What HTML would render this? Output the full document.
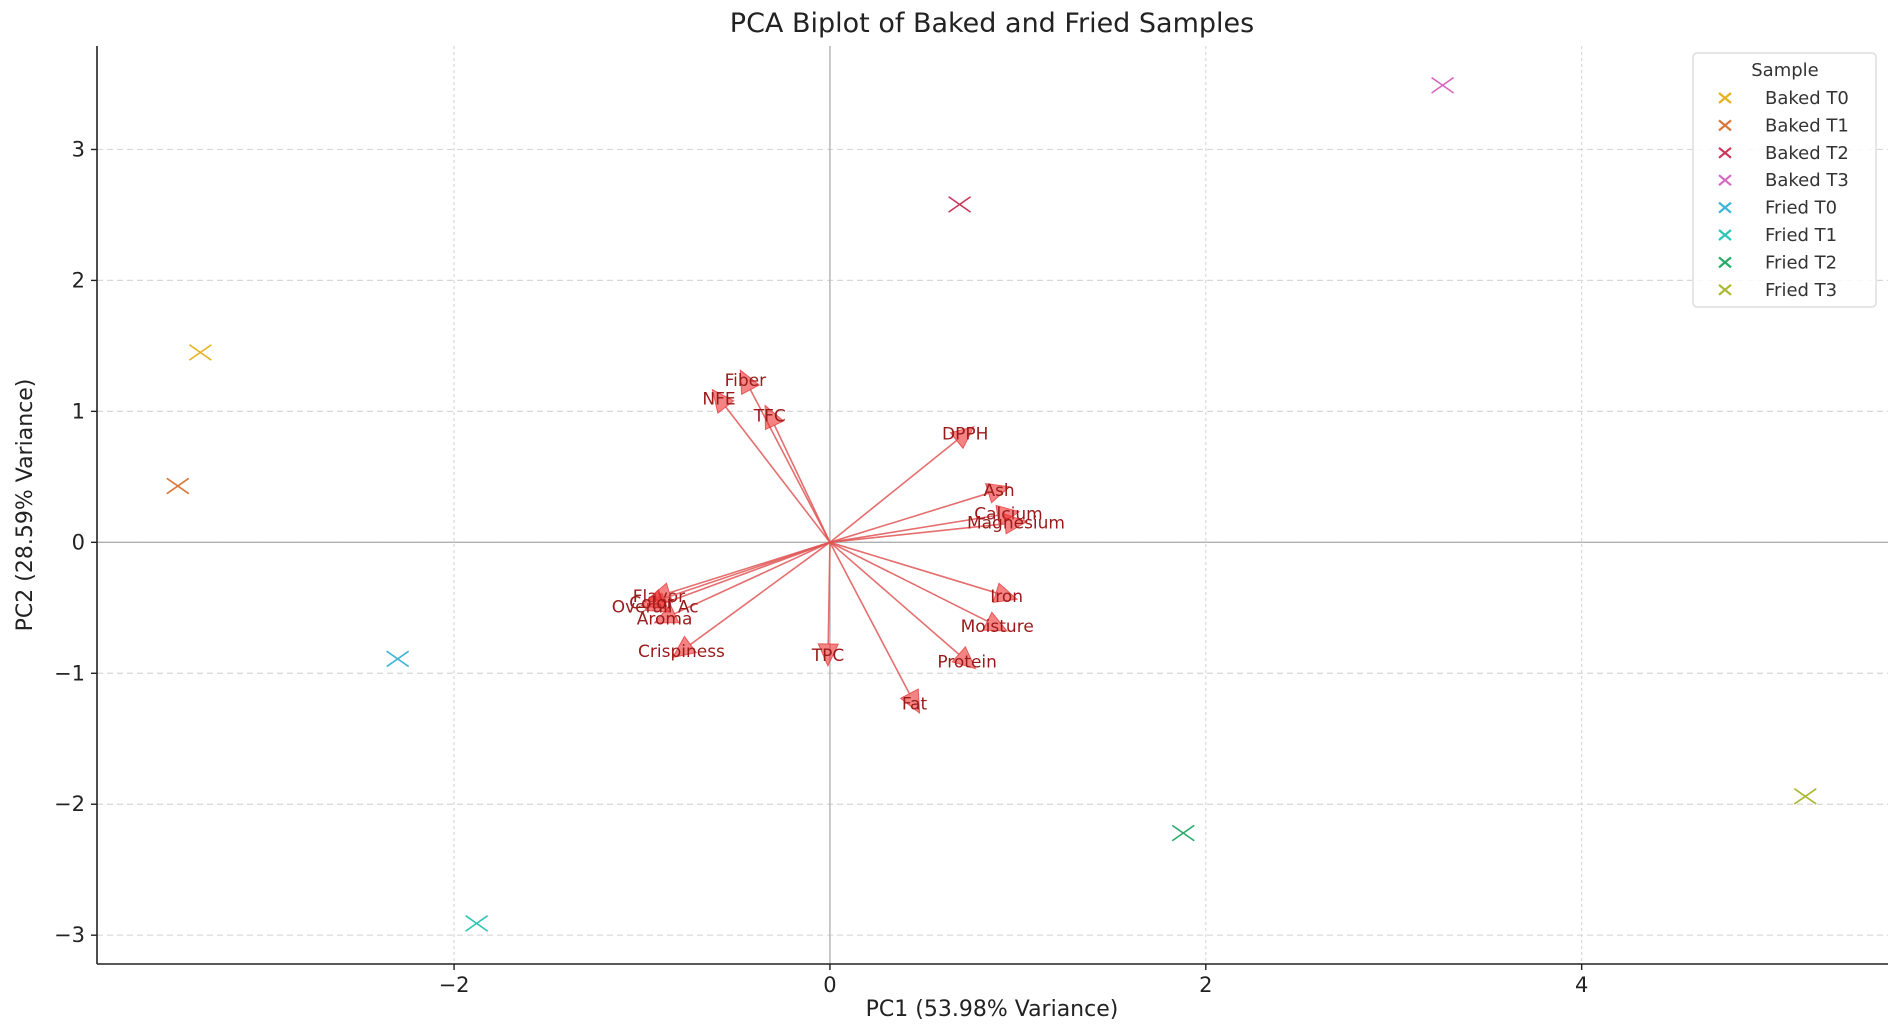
<!DOCTYPE html>
<html><head><meta charset="utf-8"><style>
html,body{margin:0;padding:0;background:#fff;}
svg{display:block;font-family:"DejaVu Sans","Liberation Sans",sans-serif;}
</style></head><body>
<svg id="chart" width="1902" height="1032" viewBox="0 0 1902 1032">
<text x="992" y="32" font-size="27" text-anchor="middle" fill="#222">PCA Biplot of Baked and Fried Samples</text>
<g id="grid"></g>
<g id="arrows"></g>
<g id="points"></g>
<g id="axes"></g>
<text x="992" y="1016" font-size="22" text-anchor="middle" fill="#222">PC1 (53.98% Variance)</text>
<text x="0" y="0" font-size="22" text-anchor="middle" fill="#222" transform="translate(32,505) rotate(-90)">PC2 (28.59% Variance)</text>
<g id="legend"></g>
</svg>
<script>
const sampleNames = ["Baked T0","Baked T1","Baked T2","Baked T3","Fried T0","Fried T1","Fried T2","Fried T3"];
const sampleColors = ["#e8b020","#d9773a","#c8385a","#d869c0","#3fb5d8","#2ec4b6","#2aaa6a","#a8b830"];
const pc1Scores = [-3.35,-3.47,0.69,3.26,-2.30,-1.88,1.88,5.19];
const pc2Scores = [1.45,0.43,2.58,3.49,-0.89,-2.91,-2.22,-1.94];
const loadingNames = ["Fiber","NFE","TFC","DPPH","Ash","Calcium","Magnesium","Iron","Moisture","Protein","Fat","TPC","Crispiness","Aroma","Overall Ac","Flavor","Color"];
const loadingPC1 = [-0.45,-0.59,-0.32,0.72,0.90,0.95,0.99,0.94,0.89,0.73,0.45,-0.01,-0.79,-0.88,-0.93,-0.91,-0.95];
const loadingPC2 = [1.24,1.10,0.97,0.83,0.40,0.22,0.15,-0.41,-0.64,-0.91,-1.23,-0.86,-0.83,-0.58,-0.49,-0.41,-0.46];
const xTicks = [-2,0,2,4];
const yTicks = [-3,-2,-1,0,1,2,3];
const xTickLabels = ["\u22122","0","2","4"];
const yTickLabels = ["\u22123","\u22122","\u22121","0","1","2","3"];

const L=97,R=1888,T=46,B=964;
const xMin=-3.9,xMax=5.63,yMin=-3.22,yMax=3.79;
const sx=v=>L+(v-xMin)/(xMax-xMin)*(R-L);
const sy=v=>B-(v-yMin)/(yMax-yMin)*(B-T);
const NS="http://www.w3.org/2000/svg";
function mk(tag,attrs,parent){const e=document.createElementNS(NS,tag);for(const k in attrs)e.setAttribute(k,attrs[k]);parent.appendChild(e);return e;}

const grid=document.getElementById('grid');
xTicks.forEach(t=>{const l=mk('line',{x1:sx(t),x2:sx(t),y1:T,y2:B,stroke:'#d8d8d8','stroke-width':1.2,'stroke-dasharray':'3,3'},grid);

});
yTicks.forEach(t=>{const l=mk('line',{x1:L,x2:R,y1:sy(t),y2:sy(t),stroke:'#d8d8d8','stroke-width':1.2,'stroke-dasharray':'6,4'},grid);

});
const zh=mk('line',{x1:L,x2:R,y1:sy(0),y2:sy(0),stroke:'#b0b0b0','stroke-width':1.3},grid);


const zv=mk('line',{x1:sx(0),x2:sx(0),y1:T,y2:B,stroke:'#b0b0b0','stroke-width':1.3},grid);



const arrows=document.getElementById('arrows');
loadingNames.forEach((n,i)=>{
  const x0=sx(0),y0=sy(0),px=sx(loadingPC1[i]),py=sy(loadingPC2[i]);
  const dx=px-x0,dy=py-y0,len=Math.hypot(dx,dy),ux=dx/len,uy=dy/len;
  const hl=22,hw=10;
  const x1=px+ux*hl*0.5,y1=py+uy*hl*0.5;
  const bx=x1-ux*hl,by=y1-uy*hl;
  const g=mk('g',{},arrows);
  
  
  mk('line',{x1:x0,y1:y0,x2:bx,y2:by,stroke:'#e05555','stroke-width':1.6,'stroke-opacity':0.85},g);
  mk('polygon',{points:`${x1},${y1} ${bx-uy*hw},${by+ux*hw} ${bx+uy*hw},${by-ux*hw}`,fill:'#f03030','fill-opacity':0.6,stroke:'#e03030','stroke-opacity':0.7},g);
  const t=mk('text',{x:px,y:py+6,'font-size':17,'text-anchor':'middle',fill:'#9a1a1a'},g);
  t.textContent=n;
});

const pts=document.getElementById('points');
sampleNames.forEach((n,i)=>{
  const x=sx(pc1Scores[i]),y=sy(pc2Scores[i]),s=11;
  const g=mk('g',{stroke:sampleColors[i],'stroke-width':1.6},pts);
  
  
  mk('line',{x1:x-s,y1:y-s*0.7,x2:x+s,y2:y+s*0.7},g);
  mk('line',{x1:x-s,y1:y+s*0.7,x2:x+s,y2:y-s*0.7},g);
});

const axes=document.getElementById('axes');
const la=mk('line',{x1:L,x2:L,y1:T,y2:B,stroke:'#222','stroke-width':1.6},axes);


const ba=mk('line',{x1:L,x2:R,y1:B,y2:B,stroke:'#222','stroke-width':1.6},axes);


xTicks.forEach((t,i)=>{
  mk('line',{x1:sx(t),x2:sx(t),y1:B,y2:B+6,stroke:'#222','stroke-width':1.4},axes);
  const tx=mk('text',{x:sx(t),y:B+28,'font-size':21,'text-anchor':'middle',fill:'#222'},axes);
  tx.textContent=xTickLabels[i];
  
  
});
yTicks.forEach((t,i)=>{
  mk('line',{x1:L-6,x2:L,y1:sy(t),y2:sy(t),stroke:'#222','stroke-width':1.4},axes);
  const tx=mk('text',{x:L-12,y:sy(t)+7,'font-size':21,'text-anchor':'end',fill:'#222'},axes);
  tx.textContent=yTickLabels[i];
  
  
});

const lg=document.getElementById('legend');


mk('rect',{x:1693,y:53,width:183,height:254,rx:4,fill:'#fff','fill-opacity':0.85,stroke:'#ddd','stroke-width':1.5},lg);
const lt=mk('text',{x:1785,y:76,'font-size':18,'text-anchor':'middle',fill:'#333'},lg);
lt.textContent='Sample';


sampleNames.forEach((n,i)=>{
  const y=98+i*27.4;
  const g=mk('g',{},lg);
  
  
  mk('line',{x1:1719,y1:y-5,x2:1731,y2:y+5,stroke:sampleColors[i],'stroke-width':2.2},g);
  mk('line',{x1:1719,y1:y+5,x2:1731,y2:y-5,stroke:sampleColors[i],'stroke-width':2.2},g);
  const t=mk('text',{x:1765,y:y+6,'font-size':18,fill:'#333'},g);
  t.textContent=n;
});
</script>
</body></html>
